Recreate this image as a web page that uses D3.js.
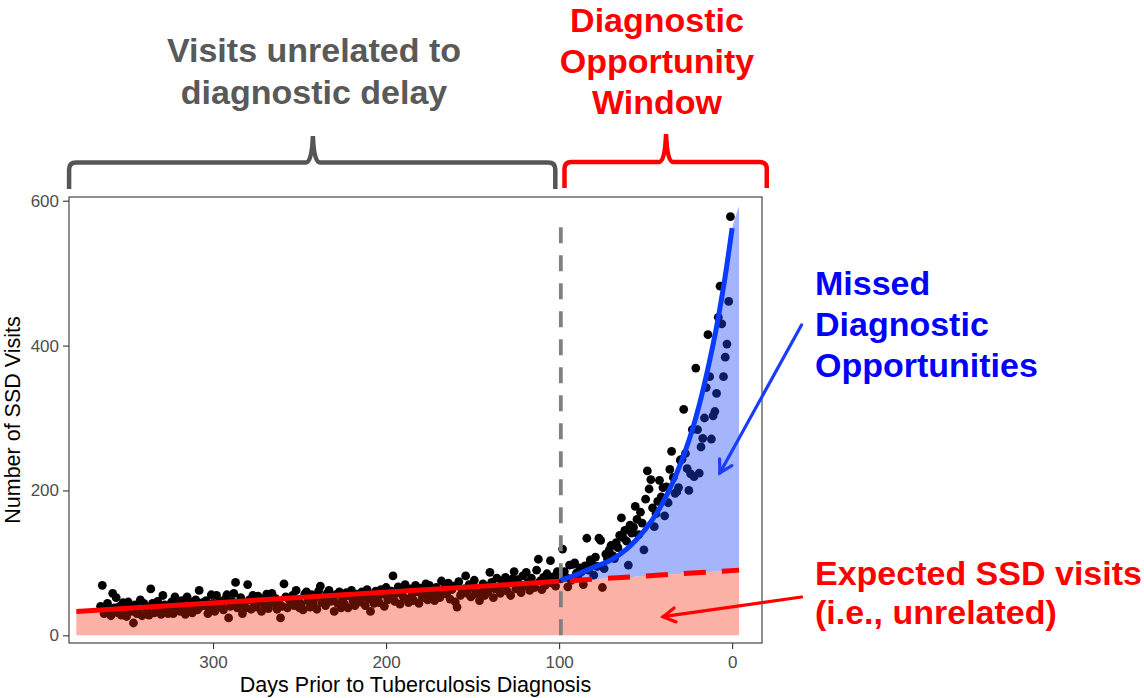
<!DOCTYPE html>
<html>
<head>
<meta charset="utf-8">
<script src="https://cdn.jsdelivr.net/npm/d3@7"></script>
<style>
  body { margin: 0; background: #fff; }
  svg { display: block; font-family: "Liberation Sans", Arial, Helvetica, sans-serif; }
</style>
</head>
<body>
<div id="chart"></div>
<script>
// ---- DATA ----

// daily SSD visit counts, one per day, from day 365 down to day 101
var firstDay = 365;
var visitsBefore = [
  40, 69, 30, 36, 44, 33, 27, 58, 38, 52,
  31, 40, 28, 45, 36, 26, 46, 39, 33, 17,
  42, 30, 36, 49, 27, 44, 39, 33, 28, 64,
  44, 31, 38, 47, 35, 29, 55, 42, 36, 30,
  37, 46, 30, 53, 40, 44, 33, 48, 36, 29,
  53, 38, 46, 31, 42, 49, 35, 62, 40, 45,
  41, 48, 30, 37, 56, 44, 33, 55, 39, 47,
  43, 35, 50, 56, 24, 40, 47, 58, 73, 38,
  45, 52, 30, 41, 38, 70, 49, 36, 55, 43,
  39, 54, 46, 33, 50, 42, 57, 37, 48, 58,
  44, 51, 36, 47, 24, 40, 71, 53, 38, 49,
  46, 55, 41, 62, 50, 38, 43, 35, 57, 60,
  48, 39, 56, 44, 52, 36, 61, 68, 45, 50,
  41, 58, 62, 47, 52, 33, 56, 44, 60, 38,
  50, 43, 59, 38, 54, 62, 47, 41, 57, 52,
  46, 60, 53, 41, 63, 50, 33, 56, 44, 61,
  52, 45, 63, 57, 40, 66, 49, 55, 61, 82,
  47, 58, 67, 43, 62, 53, 70, 50, 45, 64,
  56, 48, 69, 60, 44, 65, 52, 58, 71, 49,
  69, 55, 61, 48, 66, 58, 52, 75, 60, 67,
  57, 72, 50, 63, 68, 46, 39, 74, 55, 62,
  64, 82, 58, 70, 53, 66, 76, 61, 56, 48,
  62, 71, 55, 67, 60, 87, 73, 52, 64, 79,
  66, 58, 75, 69, 80, 61, 72, 55, 78, 88,
  64, 77, 70, 59, 82, 68, 87, 73, 62, 79,
  71, 66, 90, 105, 75, 63, 80, 69, 85, 77,
  103, 72, 81, 68, 88
];

// daily counts from day 100 down to day 1
var visitsWindow = [
  84, 78, 119, 88, 80, 67, 97, 76, 98, 100,
  86, 79, 93, 88, 70, 96, 134, 90, 104, 99,
  83, 108, 95, 134, 131, 66, 92, 112, 105, 118,
  124, 110, 106, 128, 121, 138, 162, 135, 145, 130,
  97, 152, 141, 149, 178, 160, 139, 170, 155, 118,
  188, 227, 202, 215, 176, 150, 168, 185, 214, 191,
  204, 165, 205, 183, 229, 254, 218, 196, 198, 204,
  242, 243, 312, 251, 230, 200, 223, 284, 219, 369,
  284, 224, 260, 272, 300, 342, 415, 357, 271, 303,
  309, 334, 439, 482, 430, 357, 384, 402, 461, 578
];

// expected (baseline) trend line
var expectedDays = [379, 100, -4];
var expectedVals = [33, 74.5, 90];

// fitted curve inside the diagnostic window
var fitDays = [99, 90, 80, 70, 61, 50, 42, 34, 25, 19, 13, 9, 5, 3, 0];
var fitVals = [76, 84, 94, 104, 119, 147, 175, 213, 269, 318, 379, 426, 481, 512, 562];

// blue (missed) area: top follows the fit, bottom the expected line
var missedDays   = [99, 90, 80, 70, 61, 50, 42, 34, 25, 19, 13, 9, 5, 3, 0, -4];
var missedTop    = [76, 84, 94, 104, 119, 147, 175, 213, 269, 318, 379, 426, 481, 512, 562, 592];
var missedBottom = [75, 76, 77.5, 79, 80.3, 82, 83.1, 84.3, 85.7, 86.6, 87.5, 88, 88.7, 89, 89.4, 90];

var windowStart = 99;
var yTicks = [0, 200, 400, 600];
var xTicks = [300, 200, 100, 0];

// ---- SETUP ----
var W = 1144, H = 698;
var panel = {left: 69, right: 762, top: 197, bottom: 643};

var svg = d3.select("#chart").append("svg")
  .attr("width", W)
  .attr("height", H);

var x = d3.scaleLinear().domain([383.25, -17.25]).range([panel.left, panel.right]);
var y = d3.scaleLinear().domain([-10.6, 605.1]).range([panel.bottom, panel.top]);

var points = [];
visitsBefore.forEach(function(v, i){ points.push({day: firstDay - i, v: v}); });
visitsWindow.forEach(function(v, i){ points.push({day: 100 - i, v: v}); });

var plot = svg.append("g");

// scatter
plot.selectAll("circle.pt")
  .data(points)
  .enter().append("circle")
  .attr("class", "pt")
  .attr("cx", function(d){ return x(d.day); })
  .attr("cy", function(d){ return y(d.v); })
  .attr("r", 4.4)
  .attr("fill", "#000");

// expected area (red)
var redArea = d3.area()
  .x(function(d, i){ return x(expectedDays[i]); })
  .y0(y(0))
  .y1(function(d, i){ return y(expectedVals[i]); });
plot.append("path")
  .attr("d", redArea(expectedDays))
  .attr("fill", "rgb(245,40,5)")
  .attr("fill-opacity", 0.36);

// missed area (blue)
var blueArea = d3.area()
  .x(function(d, i){ return x(missedDays[i]); })
  .y0(function(d, i){ return y(missedBottom[i]); })
  .y1(function(d, i){ return y(missedTop[i]); })
  .curve(d3.curveCatmullRom);
plot.append("path")
  .attr("d", blueArea(missedDays))
  .attr("fill", "rgb(30,70,245)")
  .attr("fill-opacity", 0.4);

// window start line
plot.append("line")
  .attr("x1", x(windowStart)).attr("x2", x(windowStart))
  .attr("y1", y(0)).attr("y2", y(573))
  .attr("stroke", "#808080")
  .attr("stroke-width", 3.8)
  .attr("stroke-dasharray", "16,12");

// expected line: solid before the window, dashed inside
var line = d3.line()
  .x(function(d){ return x(d[0]); })
  .y(function(d){ return y(d[1]); });
plot.append("path")
  .attr("d", line([[expectedDays[0], expectedVals[0]], [expectedDays[1], expectedVals[1]]]))
  .attr("stroke", "#ff0000").attr("stroke-width", 5).attr("fill", "none");
plot.append("path")
  .attr("d", line([[expectedDays[1], expectedVals[1]], [expectedDays[2], expectedVals[2]]]))
  .attr("stroke", "#ff0000").attr("stroke-width", 5).attr("fill", "none")
  .attr("stroke-dasharray", "22,16")
  .attr("stroke-dashoffset", 27);

// fitted curve
var fitLine = d3.line()
  .x(function(d, i){ return x(fitDays[i]); })
  .y(function(d, i){ return y(fitVals[i]); })
  .curve(d3.curveCatmullRom);
plot.append("path")
  .attr("d", fitLine(fitDays))
  .attr("stroke", "#0a3cff").attr("stroke-width", 5).attr("fill", "none")
  .attr("stroke-linecap", "butt");

// panel border
svg.append("rect")
  .attr("x", panel.left).attr("y", panel.top)
  .attr("width", panel.right - panel.left)
  .attr("height", panel.bottom - panel.top)
  .attr("fill", "none")
  .attr("stroke", "#333")
  .attr("stroke-width", 1.1);

// axes
var yAxis = svg.append("g")
  .attr("transform", "translate(" + panel.left + ",0)")
  .call(d3.axisLeft(y).tickValues(yTicks).tickSize(6).tickPadding(4));
var xAxis = svg.append("g")
  .attr("transform", "translate(0," + panel.bottom + ")")
  .call(d3.axisBottom(x).tickValues(xTicks).tickSize(6).tickPadding(7));
[yAxis, xAxis].forEach(function(ax){
  ax.select(".domain").remove();
  ax.selectAll(".tick line").attr("stroke", "#333").attr("stroke-width", 1.1);
  ax.selectAll(".tick text")
    .attr("fill", "#4d4d4d")
    .style("font-size", "17px")
    .style("font-family", "'Liberation Sans', Arial, sans-serif");
});

svg.append("text")
  .attr("x", (panel.left + panel.right) / 2)
  .attr("y", 692)
  .attr("text-anchor", "middle")
  .style("font-size", "21.5px")
  .text("Days Prior to Tuberculosis Diagnosis");

svg.append("text")
  .attr("transform", "translate(20," + ((panel.top + panel.bottom) / 2) + ") rotate(-90)")
  .attr("text-anchor", "middle")
  .style("font-size", "21.5px")
  .text("Number of SSD Visits");

// ---- ANNOTATIONS ----
function bracePath(x0, x1, xm, yh, yb, yp) {
  var r = 7;
  return "M" + x0 + "," + yb +
    " L" + x0 + "," + (yh + r) +
    " Q" + x0 + "," + yh + " " + (x0 + r) + "," + yh +
    " L" + (xm - 7) + "," + yh +
    " Q" + (xm - 1) + "," + yh + " " + xm + "," + yp +
    " Q" + (xm + 1) + "," + yh + " " + (xm + 7) + "," + yh +
    " L" + (x1 - r) + "," + yh +
    " Q" + x1 + "," + yh + " " + x1 + "," + (yh + r) +
    " L" + x1 + "," + yb;
}

svg.append("path")
  .attr("d", bracePath(x(383.2), x(102.2), x(242.3), 162.5, 189, 136))
  .attr("fill", "none").attr("stroke", "#555").attr("stroke-width", 4.5);
svg.append("path")
  .attr("d", bracePath(x(96.9), x(-20), x(38.2), 162, 188, 134))
  .attr("fill", "none").attr("stroke", "#ff0000").attr("stroke-width", 4.5);

function multiLine(lines, px, py, step, anchor, color) {
  var t = svg.append("text")
    .attr("x", px).attr("y", py)
    .attr("text-anchor", anchor)
    .attr("fill", color)
    .style("font-size", "34px")
    .style("font-weight", "bold");
  lines.forEach(function(s, i){
    t.append("tspan").attr("x", px).attr("y", py + i * step).text(s);
  });
}

multiLine(["Visits unrelated to", "diagnostic delay"], 314, 62, 42, "middle", "#595959");
multiLine(["Diagnostic", "Opportunity", "Window"], 657, 32, 41, "middle", "#ff0000");
multiLine(["Missed", "Diagnostic", "Opportunities"], 815, 295, 41, "start", "#0000ff");
multiLine(["Expected SSD visits", "(i.e., unrelated)"], 815, 585, 39, "start", "#ff0000");

function arrow(d0, v0, d1, v1, color) {
  var sx = x(d0), sy = y(v0), ex = x(d1), ey = y(v1);
  var ang = Math.atan2(ey - sy, ex - sx);
  var len = 14, spread = Math.PI / 6;
  var g = svg.append("g")
    .attr("stroke", color).attr("stroke-width", 3.2)
    .attr("fill", "none").attr("stroke-linecap", "round");
  g.append("line").attr("x1", sx).attr("y1", sy).attr("x2", ex).attr("y2", ey);
  g.append("path").attr("d",
    "M" + (ex - len * Math.cos(ang - spread)) + "," + (ey - len * Math.sin(ang - spread)) +
    " L" + ex + "," + ey +
    " L" + (ex - len * Math.cos(ang + spread)) + "," + (ey - len * Math.sin(ang + spread)));
}

arrow(-40.1, 428.4, 7.1, 224.2, "#1a3cff");
arrow(-40.1, 52.9, 39.9, 25.7, "#ff0000");
</script>
</body>
</html>
